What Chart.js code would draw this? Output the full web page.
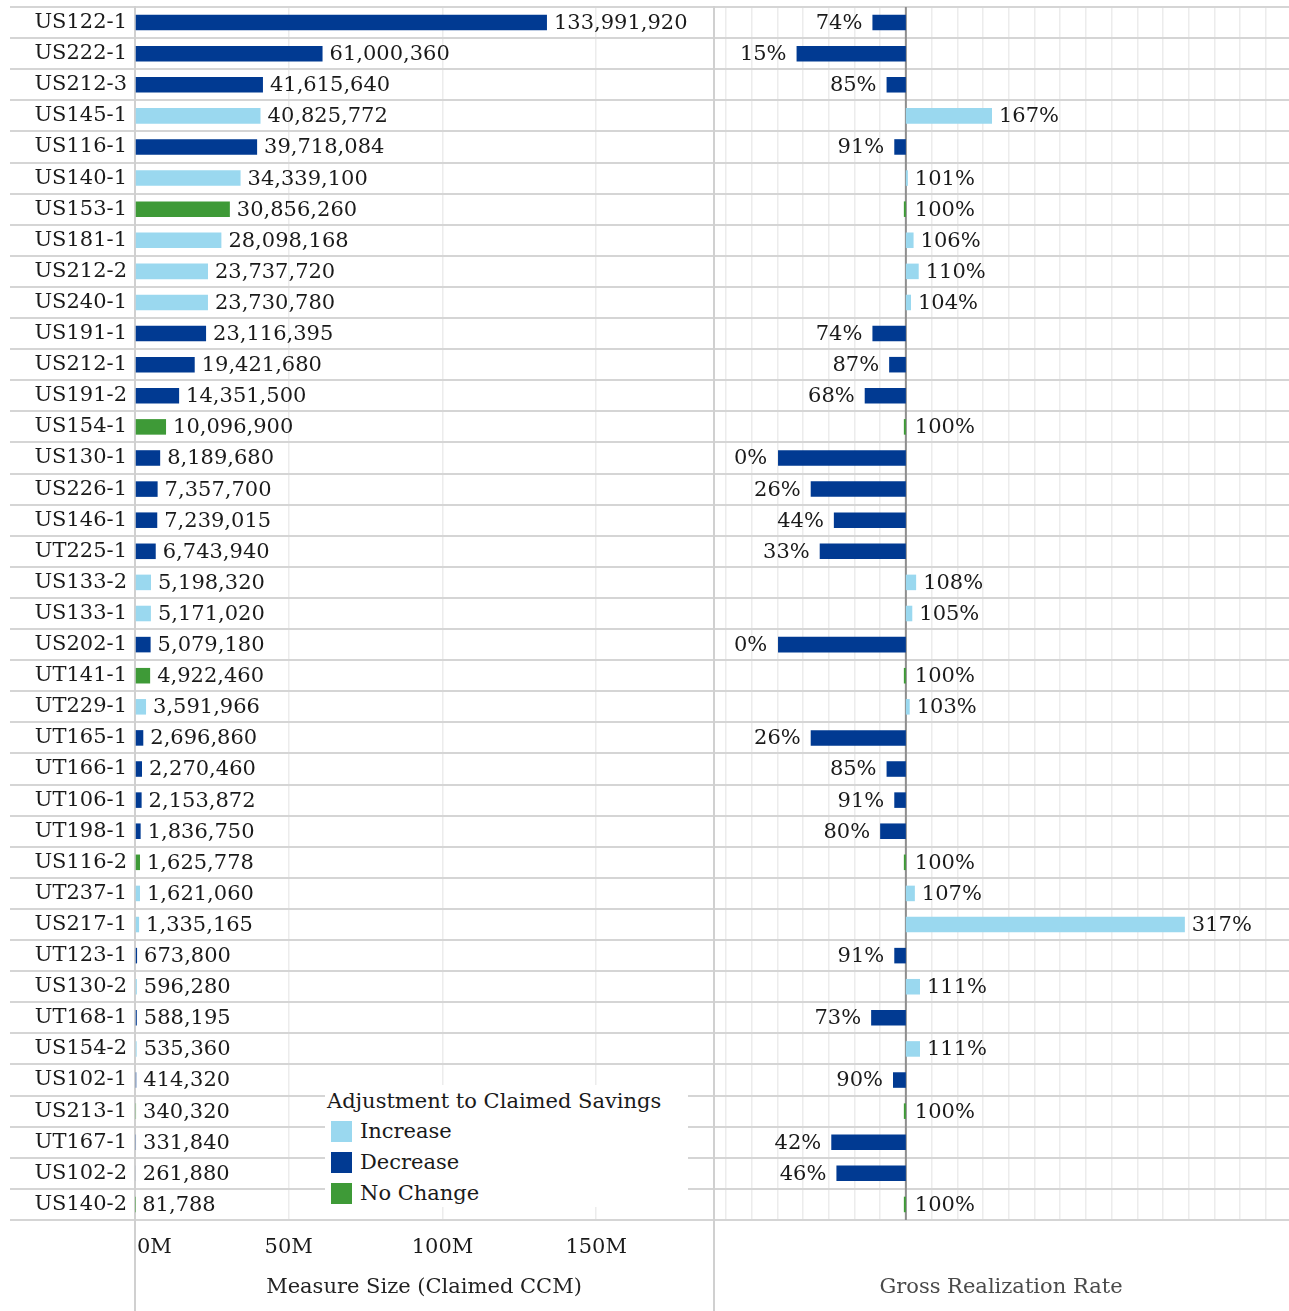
<!DOCTYPE html>
<html>
<head>
<meta charset="utf-8">
<script src="https://cdn.jsdelivr.net/npm/chart.js@4.4.1/dist/chart.umd.min.js"></script>
<style>
  html, body { margin:0; padding:0; background:#fff; }
  body { width:1289px; height:1311px; overflow:hidden; position:relative; font-family:"DejaVu Serif", serif; }
  #c1 { position:absolute; left:0; top:0; }
  #c2 { position:absolute; left:713px; top:0; }
  #legend { position:absolute; left:325px; top:1085px; width:363px; height:122px; background:#fff; color:#1a1a1a; font-size:21px; }
  #legend .ttl { position:absolute; left:2px; top:4px; line-height:25px; white-space:nowrap; }
  #legend .sw { position:absolute; left:6px; width:21px; height:21px; }
  #legend .lb { position:absolute; left:35px; line-height:25px; white-space:nowrap; }
</style>
</head>
<body>
<canvas id="c1" width="713" height="1311"></canvas>
<canvas id="c2" width="576" height="1311"></canvas>
<div id="legend"></div>
<script>
// ---------- DATA ----------
const measures = ["US122-1","US222-1","US212-3","US145-1","US116-1","US140-1","US153-1","US181-1","US212-2","US240-1",
  "US191-1","US212-1","US191-2","US154-1","US130-1","US226-1","US146-1","UT225-1","US133-2","US133-1",
  "US202-1","UT141-1","UT229-1","UT165-1","UT166-1","UT106-1","UT198-1","US116-2","UT237-1","US217-1",
  "UT123-1","US130-2","UT168-1","US154-2","US102-1","US213-1","UT167-1","US102-2","US140-2"];
const claimedCCM = [133991920,61000360,41615640,40825772,39718084,34339100,30856260,28098168,23737720,23730780,
  23116395,19421680,14351500,10096900,8189680,7357700,7239015,6743940,5198320,5171020,
  5079180,4922460,3591966,2696860,2270460,2153872,1836750,1625778,1621060,1335165,
  673800,596280,588195,535360,414320,340320,331840,261880,81788];
const grossRealization = [0.74,0.15,0.85,1.67,0.91,1.01,1.00,1.06,1.10,1.04,
  0.74,0.87,0.68,1.00,0.00,0.26,0.44,0.33,1.08,1.05,
  0.00,1.00,1.03,0.26,0.85,0.91,0.80,1.00,1.07,3.17,
  0.91,1.11,0.73,1.11,0.90,1.00,0.42,0.46,1.00];
const adjustment = ["D","D","D","I","D","I","N","I","I","I",
  "D","D","D","N","D","D","D","D","I","I",
  "D","N","I","D","D","D","D","N","I","I",
  "D","I","D","I","D","N","D","D","N"];
const adjustmentKeys = ["I","D","N"];
const adjustmentNames = ["Increase","Decrease","No Change"];
const sizeTicks = [0,50000000,100000000,150000000];
const sizeTickLabels = ["0M","50M","100M","150M"];
const grrGridTicks = [-0.4,-0.2,0,0.2,0.4,0.6,0.8,1.0,1.2,1.4,1.6,1.8,2.0,2.2,2.4,2.6,2.8,3.0,3.2,3.4,3.6,3.8];
const legendTitle = "Adjustment to Claimed Savings";
const leftTitle = "Measure Size (Claimed CCM)";
const rightTitle = "Gross Realization Rate";

// ---------- STYLE ----------
const COLORS = { I:"#9AD8EF", D:"#013A92", N:"#3E9A37" };
const FONT = '"DejaVu Serif", serif';
const FS = 21;
const TXT = "#1a1a1a";
const ROWLINE = "#d5d5d5";
const GRID = "#ececec";
const barColors = adjustment.map(a => COLORS[a]);

// legend
const lg = document.getElementById("legend");
const t = document.createElement("div"); t.className = "ttl"; t.textContent = legendTitle; lg.appendChild(t);
adjustmentKeys.forEach((k, i) => {
  const sw = document.createElement("div"); sw.className = "sw"; sw.style.top = (36 + i*31) + "px"; sw.style.background = COLORS[k]; lg.appendChild(sw);
  const lb = document.createElement("div"); lb.className = "lb"; lb.style.top = (34 + i*31) + "px"; lb.textContent = adjustmentNames[i]; lg.appendChild(lb);
});

function drawRowLines(chart, x0, x1) {
  const { top, bottom } = chart.chartArea;
  const n = measures.length, h = (bottom - top) / n;
  const ctx = chart.ctx;
  ctx.save();
  ctx.strokeStyle = ROWLINE; ctx.lineWidth = 2;
  for (let i = 0; i <= n; i++) {
    const y = Math.round(top + i*h);
    ctx.beginPath(); ctx.moveTo(x0, y); ctx.lineTo(x1, y); ctx.stroke();
  }
  ctx.restore();
}

const leftDecor = {
  id: "leftDecor",
  beforeDatasetsDraw(chart) {
    const ctx = chart.ctx, ca = chart.chartArea;
    drawRowLines(chart, 10, chart.width);
    ctx.save();
    ctx.strokeStyle = "#d0d0d0"; ctx.lineWidth = 2;
    ctx.beginPath(); ctx.moveTo(ca.left, ca.top - 1); ctx.lineTo(ca.left, chart.height); ctx.stroke();
    ctx.restore();
  },
  afterDatasetsDraw(chart) {
    const ctx = chart.ctx, ca = chart.chartArea;
    const meta = chart.getDatasetMeta(0);
    ctx.save();
    ctx.font = FS + "px " + FONT; ctx.fillStyle = TXT; ctx.textBaseline = "middle"; ctx.textAlign = "left";
    meta.data.forEach((el, i) => {
      ctx.fillText(claimedCCM[i].toLocaleString("en-US"), el.x + 7, el.y + 1);
    });
    const xs = chart.scales.x;
    ctx.textAlign = "center";
    sizeTicks.forEach((v, i) => {
      const w = ctx.measureText(sizeTickLabels[i]).width;
      const px = Math.max(xs.getPixelForValue(v), ca.left + w/2 + 2);
      ctx.fillText(sizeTickLabels[i], px, 1248);
    });
    ctx.fillStyle = "#222";
    ctx.fillText(leftTitle, (ca.left + ca.right)/2, 1288);
    ctx.restore();
  }
};

const rightDecor = {
  id: "rightDecor",
  beforeDatasetsDraw(chart) {
    const ctx = chart.ctx, ca = chart.chartArea;
    drawRowLines(chart, 0, chart.width);
    ctx.save();
    ctx.strokeStyle = "#d0d0d0"; ctx.lineWidth = 2;
    ctx.beginPath(); ctx.moveTo(1, ca.top - 1); ctx.lineTo(1, chart.height); ctx.stroke();
    const x100 = chart.scales.x.getPixelForValue(1);
    ctx.strokeStyle = "#8e8e8e"; ctx.lineWidth = 2;
    ctx.beginPath(); ctx.moveTo(x100, ca.top); ctx.lineTo(x100, ca.bottom); ctx.stroke();
    ctx.restore();
  },
  afterDatasetsDraw(chart) {
    const ctx = chart.ctx, ca = chart.chartArea;
    const xs = chart.scales.x;
    const meta = chart.getDatasetMeta(0);
    const x100 = xs.getPixelForValue(1);
    ctx.save();
    ctx.font = FS + "px " + FONT; ctx.fillStyle = TXT; ctx.textBaseline = "middle";
    meta.data.forEach((el, i) => {
      const v = grossRealization[i];
      const txt = Math.round(v*100) + "%";
      const end = xs.getPixelForValue(v);
      if (v < 1) { ctx.textAlign = "right"; ctx.fillText(txt, end - 10, el.y + 1); }
      else { ctx.textAlign = "left"; ctx.fillText(txt, Math.max(end, x100 + 2) + 7, el.y + 1); }
    });
    ctx.textAlign = "center"; ctx.fillStyle = "#4a4a4a";
    ctx.fillText(rightTitle, (ca.left + ca.right)/2, 1288);
    ctx.restore();
  }
};

const common = {
  responsive: false,
  animation: false,
  indexAxis: "y",
  plugins: { legend: { display:false }, tooltip: { enabled:false }, title: { display:false } },
};
function noPad(s) { s.paddingTop = 0; s.paddingBottom = 0; s.paddingLeft = 0; s.paddingRight = 0; }

new Chart(document.getElementById("c1"), {
  type: "bar",
  data: { labels: measures, datasets: [{ data: claimedCCM, backgroundColor: barColors, borderWidth: 0, barPercentage: 0.5, categoryPercentage: 1.0 }] },
  options: Object.assign({}, common, {
    layout: { padding: { left: 10, right: 0, top: 7, bottom: 0 } },
    scales: {
      x: {
        min: 0, max: 188000000,
        afterBuildTicks: s => { s.ticks = sizeTicks.map(v => ({ value: v })); },
        afterFit: s => { s.height = 91; noPad(s); },
        ticks: { display: false },
        grid: { color: GRID, lineWidth: 1.5, drawTicks: false },
        border: { display: false }
      },
      y: {
        afterFit: s => { s.width = 125; noPad(s); },
        ticks: { color: TXT, font: { family: FONT, size: FS }, padding: 8 },
        grid: { display: false, drawTicks: false },
        border: { display: false }
      }
    }
  }),
  plugins: [leftDecor]
});

new Chart(document.getElementById("c2"), {
  type: "bar",
  data: { labels: measures, datasets: [{ data: grossRealization.map(v => [1, v]), backgroundColor: barColors, borderWidth: 0, barPercentage: 0.5, categoryPercentage: 1.0, minBarLength: 2 }] },
  options: Object.assign({}, common, {
    layout: { padding: { left: 0, right: 0, top: 7, bottom: 0 } },
    scales: {
      x: {
        min: -0.5, max: 3.98,
        afterBuildTicks: s => { s.ticks = grrGridTicks.map(v => ({ value: v })); },
        afterFit: s => { s.height = 91; noPad(s); },
        ticks: { display: false },
        grid: { color: GRID, lineWidth: 1.5, drawTicks: false },
        border: { display: false }
      },
      y: { display: false }
    }
  }),
  plugins: [rightDecor]
});
</script>
</body>
</html>
